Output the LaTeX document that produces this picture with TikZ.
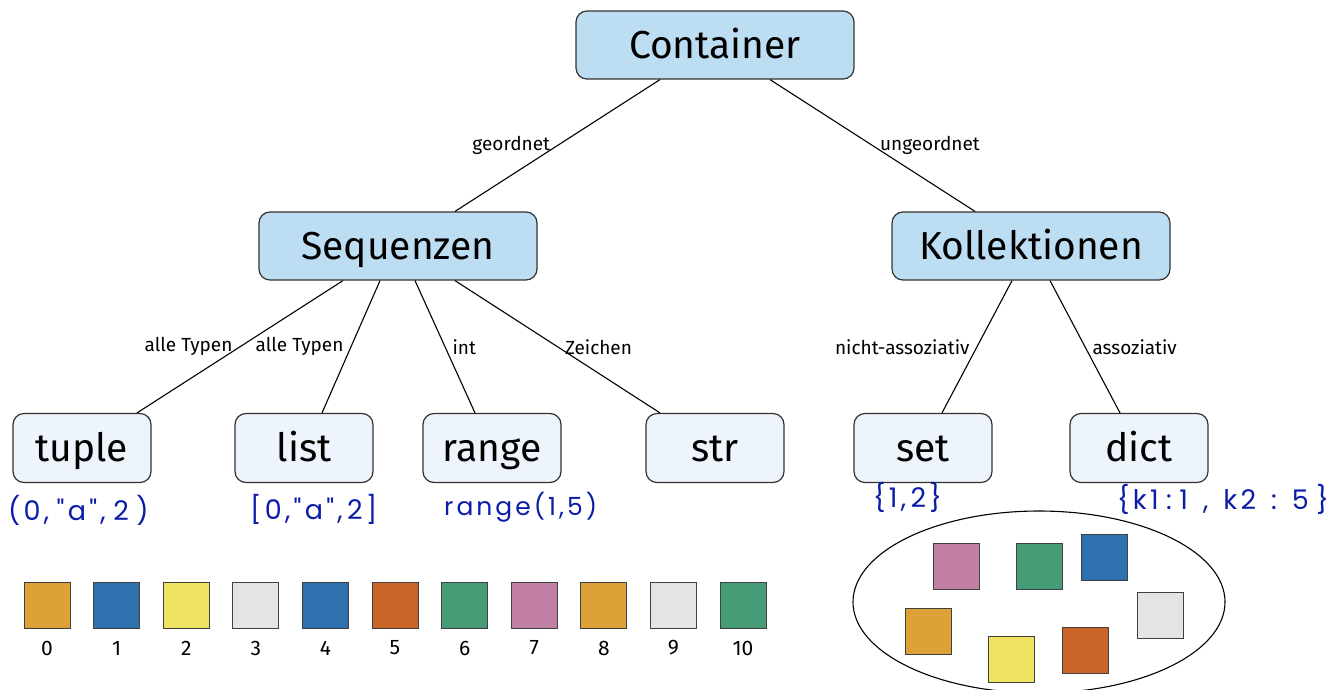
\documentclass[tikz,border=0pt]{standalone}
\usepackage{fontspec}
\setmainfont{Fira Sans}
\newfontfamily\handfont[LetterSpace=12]{Poppins}
\usetikzlibrary{calc}
\definecolor{boxblue}{HTML}{BDDDF2}
\definecolor{boxpale}{HTML}{EEF4FC}
\definecolor{boxline}{HTML}{333333}
\definecolor{ink}{HTML}{0B1CA8}
\definecolor{cOrange}{HTML}{DDA137}
\definecolor{cBlue}{HTML}{2D72AE}
\definecolor{cYellow}{HTML}{EFE362}
\definecolor{cGray}{HTML}{E4E4E4}
\definecolor{cRed}{HTML}{C86426}
\definecolor{cGreen}{HTML}{469C77}
\definecolor{cPink}{HTML}{C27FA5}
\tikzset{
  boxbase/.style={draw=boxline, line width=1.2pt, rounded corners=11pt, inner sep=0pt,
    text height=27pt, text depth=0pt,
    font=\fontsize{39}{42}\selectfont},
  bigbox/.style={boxbase, fill=boxblue, minimum width=278pt, minimum height=68pt},
  smallbox/.style={boxbase, fill=boxpale, minimum width=138pt, minimum height=69pt},
  edge/.style={line width=1.1pt, black},
  lbl/.style={midway, inner sep=7pt, font=\fontsize{19}{22}\selectfont},
  hand/.style={ink, font=\handfont\fontsize{27}{30}\selectfont, inner sep=0pt},
  tile/.style={draw=black!75, line width=0.8pt, minimum size=46pt, inner sep=0pt},
  num/.style={font=\fontsize{21}{24}\selectfont, inner sep=0pt}
}
\begin{document}
\begin{tikzpicture}[x=1pt, y=-1pt]
\useasboundingbox (0,0) rectangle (1335,689);

% tree nodes
\node[bigbox] (cont) at (715,45) {Container};
\node[bigbox] (seq)  at (398,246) {Sequenzen};
\node[bigbox] (koll) at (1031,246) {Kollektionen};
\node[smallbox] (tuple) at (82,448)  {tuple};
\node[smallbox] (list)  at (304,448) {list};
\node[smallbox] (range) at (492,448) {range};
\node[smallbox] (str)   at (715,448) {str};
\node[smallbox] (set)   at (923,448) {set};
\node[smallbox] (dict)  at (1139,448) {dict};

% connectors with labels
\draw[edge] ($(cont.south)+(-55,0)$) -- node[lbl, left] {geordnet} ($(seq.north)+(57,0)$);
\draw[edge] ($(cont.south)+(55,0)$) -- node[lbl, right] {ungeordnet} ($(koll.north)+(-56,0)$);
\draw[edge] ($(seq.south)+(-55,0)$) -- node[lbl, left] {alle Typen} ($(tuple.north)+(55,0)$);
\draw[edge] ($(seq.south)+(-18,0)$) -- node[lbl, left] {alle Typen} ($(list.north)+(18,0)$);
\draw[edge] ($(seq.south)+(17,0)$) -- node[lbl, right] {int} ($(range.north)+(-17,0)$);
\draw[edge] ($(seq.south)+(57,0)$) -- node[lbl, right] {Zeichen} ($(str.north)+(-55,0)$);
\draw[edge] ($(koll.south)+(-19,0)$) -- node[lbl, left] {nicht-assoziativ} ($(set.north)+(19,0)$);
\draw[edge] ($(koll.south)+(19,0)$) -- node[lbl, right] {assoziativ} ($(dict.north)+(-19,0)$);

% example literals
\node[hand, anchor=west] (ex1) at (8,510) {(0,\;"a",\;2\;)};
\node[hand, anchor=west] (ex2) at (250,509) {[0,"a",\,2]};
\node[hand, anchor=west, font=\handfont\fontsize{25}{28}\selectfont] (ex3) at (444,507) {range(1,5)};
\node[hand, anchor=west] (ex4) at (873,497) {\{1,\,2\}};
\node[hand, anchor=west] (ex5) at (1117,499) {\{k1\;:\;1\;\;,\;\;k2\;\;:\;\;5\;\}};

% indexed row of elements
\foreach \c [count=\i from 0] in {cOrange,cBlue,cYellow,cGray,cBlue,cRed,cGreen,cPink,cOrange,cGray,cGreen} {
  \node[tile, fill=\c] (t\i) at ({47+69.6*\i},605) {};
  \node[num] (n\i) at ({47+69.6*\i},648) {\i};
}

% unordered collection
\begin{scope}
\clip (0,0) rectangle (1335,689);
\draw[line width=1.1pt] (1039,602) ellipse [x radius=186, y radius=91];
\end{scope}
\node[tile, fill=cPink]   (e1) at (956,566) {};
\node[tile, fill=cGreen]  (e2) at (1039,566) {};
\node[tile, fill=cBlue]   (e3) at (1104,557) {};
\node[tile, fill=cGray]   (e4) at (1160,615) {};
\node[tile, fill=cOrange] (e5) at (928,631) {};
\node[tile, fill=cYellow] (e6) at (1011,659) {};
\node[tile, fill=cRed]    (e7) at (1085,650) {};
\end{tikzpicture}
\end{document}
